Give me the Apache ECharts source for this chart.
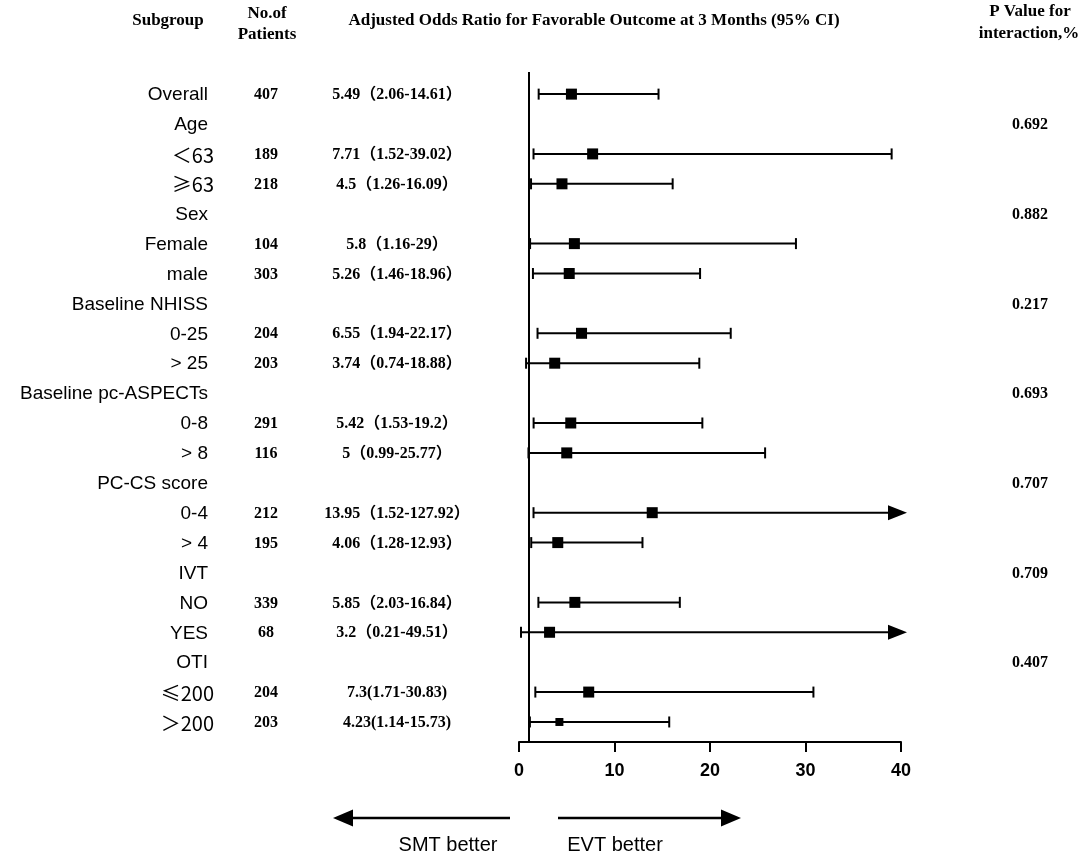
<!DOCTYPE html>
<html>
<head>
<meta charset="utf-8">
<script src="https://cdn.jsdelivr.net/npm/echarts@6/dist/echarts.min.js"></script>
<style>html,body{margin:0;padding:0;background:#fff}#c{width:1084px;height:864px}</style>
</head>
<body>
<div id="c"></div>
<script>
// ---- data ----
var subgroups = ['Overall','Age','＜63','≥63','Sex','Female','male','Baseline NHISS','0-25','> 25','Baseline pc-ASPECTs','0-8','> 8','PC-CS score','0-4','> 4','IVT','NO','YES','OTI','≤200','＞200'];
var patients = [407,null,189,218,null,104,303,null,204,203,null,291,116,null,212,195,null,339,68,null,204,203];
var oddsRatio = [5.49,null,7.71,4.5,null,5.8,5.26,null,6.55,3.74,null,5.42,5,null,13.95,4.06,null,5.85,3.2,null,7.3,4.23];
var ciLow = [2.06,null,1.52,1.26,null,1.16,1.46,null,1.94,0.74,null,1.53,0.99,null,1.52,1.28,null,2.03,0.21,null,1.71,1.14];
var ciHigh = [14.61,null,39.02,16.09,null,29,18.96,null,22.17,18.88,null,19.2,25.77,null,127.92,12.93,null,16.84,49.51,null,30.83,15.73];
var orLabels = ['5.49（2.06-14.61）','','7.71（1.52-39.02）','4.5（1.26-16.09）','','5.8（1.16-29）','5.26（1.46-18.96）','','6.55（1.94-22.17）','3.74（0.74-18.88）','','5.42（1.53-19.2）','5（0.99-25.77）','','13.95（1.52-127.92）','4.06（1.28-12.93）','','5.85（2.03-16.84）','3.2（0.21-49.51）','','7.3(1.71-30.83)','4.23(1.14-15.73)'];
var pValues = ['', '0.692','','','0.882','','','0.217','','','0.693','','','0.707','','','0.709','','','0.407','',''];
var xTicks = {min: 0, max: 40, interval: 10};

// ---- chart ----
var chart = echarts.init(document.getElementById('c'));
var serifB = '"Liberation Serif","Times New Roman","Noto Sans CJK SC",serif';
var sans = '"Liberation Sans",Arial,"Noto Sans CJK SC",sans-serif';
var cjk = '"Noto Sans CJK SC","Liberation Sans",sans-serif';

var ciData = [], pointData = [], textData = [];
for (var i = 0; i < subgroups.length; i++) {
  textData.push([0, i]);
  if (oddsRatio[i] != null) {
    ciData.push([ciLow[i], ciHigh[i], i]);
    pointData.push([oddsRatio[i], i]);
  }
}
var lastRow = subgroups.length - 1;

chart.setOption({
  animation: false,
  backgroundColor: '#fff',
  grid: {left: 519, right: 183, top: 72, bottom: 122},
  xAxis: {
    type: 'value', position: 'bottom', min: xTicks.min, max: xTicks.max, interval: xTicks.interval,
    axisLine: {show: true, onZero: false, lineStyle: {color: '#000', width: 2}},
    axisTick: {show: true, inside: false, length: 10, lineStyle: {color: '#000', width: 2}},
    axisLabel: {color: '#000', fontWeight: 'bold', fontSize: 18, fontFamily: sans, margin: 20},
    splitLine: {show: false}
  },
  yAxis: {type: 'value', inverse: true, min: -0.74, max: 21.67, show: false},
  series: [
    {
      type: 'custom', clip: false, data: ciData, z: 3,
      renderItem: function (params, api) {
        var lo = api.value(0), hi = api.value(1), row = api.value(2);
        var p0 = api.coord([lo, row]);
        var y = p0[1];
        var children = [];
        var capH = 5.5;
        children.push({type: 'line', shape: {x1: p0[0], y1: y - capH, x2: p0[0], y2: y + capH}, style: {stroke: '#000', lineWidth: 2}});
        if (hi <= xTicks.max) {
          var p1 = api.coord([hi, row]);
          children.push({type: 'line', shape: {x1: p0[0], y1: y, x2: p1[0], y2: y}, style: {stroke: '#000', lineWidth: 2}});
          children.push({type: 'line', shape: {x1: p1[0], y1: y - capH, x2: p1[0], y2: y + capH}, style: {stroke: '#000', lineWidth: 2}});
        } else {
          var tip = api.coord([xTicks.max, row])[0] + 6;
          var base = tip - 19;
          children.push({type: 'line', shape: {x1: p0[0], y1: y, x2: base + 2, y2: y}, style: {stroke: '#000', lineWidth: 2}});
          children.push({type: 'polygon', shape: {points: [[base, y - 7.5], [tip, y], [base, y + 7.5]]}, style: {fill: '#000'}});
        }
        return {type: 'group', children: children};
      }
    },
    {
      type: 'scatter', data: pointData, symbol: 'rect', z: 4,
      symbolSize: function (v) { return v[1] === lastRow ? 8 : 11; },
      itemStyle: {color: '#000', opacity: 1},
      emphasis: {disabled: true},
      markLine: {
        silent: true, symbol: ['none', 'none'], label: {show: false},
        lineStyle: {color: '#000', width: 2, type: 'solid'},
        data: [{xAxis: 1}]
      }
    },
    {
      type: 'custom', clip: false, data: textData, z: 5,
      renderItem: function (params, api) {
        var i = api.value(1);
        var y = api.coord([0, i])[1];
        var ch = [];
        var label = subgroups[i];
        var special = /[^\x00-\x7f]/.test(label);
        ch.push({type: 'text', x: special ? 214 : 208, y: y + 1, style: {text: label, fill: '#000', font: (special ? '20px ' + cjk : '19px ' + sans), align: 'right', verticalAlign: 'middle'}});
        if (patients[i] != null) {
          ch.push({type: 'text', x: 266, y: y + 1, style: {text: String(patients[i]), fill: '#000', font: 'bold 16px ' + serifB, align: 'center', verticalAlign: 'middle'}});
        }
        if (orLabels[i]) {
          ch.push({type: 'text', x: 397, y: y + 1, style: {text: orLabels[i], fill: '#000', font: 'bold 16px ' + serifB, align: 'center', verticalAlign: 'middle'}});
        }
        if (pValues[i]) {
          ch.push({type: 'text', x: 1030, y: y + 1, style: {text: pValues[i], fill: '#000', font: 'bold 16px ' + serifB, align: 'center', verticalAlign: 'middle'}});
        }
        return {type: 'group', children: ch};
      }
    }
  ],
  graphic: [
    {type: 'text', x: 168, y: 21, style: {text: 'Subgroup', fill: '#000', font: 'bold 17px ' + serifB, align: 'center', verticalAlign: 'middle'}},
    {type: 'text', x: 267, y: 14, style: {text: 'No.of', fill: '#000', font: 'bold 17px ' + serifB, align: 'center', verticalAlign: 'middle'}},
    {type: 'text', x: 267, y: 35, style: {text: 'Patients', fill: '#000', font: 'bold 17px ' + serifB, align: 'center', verticalAlign: 'middle'}},
    {type: 'text', x: 594, y: 21, style: {text: 'Adjusted Odds Ratio for Favorable Outcome at 3 Months (95% CI)', fill: '#000', font: 'bold 17px ' + serifB, align: 'center', verticalAlign: 'middle'}},
    {type: 'text', x: 1030, y: 12, style: {text: 'P Value for', fill: '#000', font: 'bold 17px ' + serifB, align: 'center', verticalAlign: 'middle'}},
    {type: 'text', x: 1029, y: 34, style: {text: 'interaction,%', fill: '#000', font: 'bold 17px ' + serifB, align: 'center', verticalAlign: 'middle'}},
    {type: 'line', shape: {x1: 350, y1: 818, x2: 510, y2: 818}, style: {stroke: '#000', lineWidth: 2.5}},
    {type: 'polygon', shape: {points: [[333, 818], [353, 809.5], [353, 826.5]]}, style: {fill: '#000'}},
    {type: 'line', shape: {x1: 558, y1: 818, x2: 724, y2: 818}, style: {stroke: '#000', lineWidth: 2.5}},
    {type: 'polygon', shape: {points: [[741, 818], [721, 809.5], [721, 826.5]]}, style: {fill: '#000'}},
    {type: 'text', x: 448, y: 845, style: {text: 'SMT better', fill: '#000', font: '20px ' + sans, align: 'center', verticalAlign: 'middle'}},
    {type: 'text', x: 615, y: 845, style: {text: 'EVT better', fill: '#000', font: '20px ' + sans, align: 'center', verticalAlign: 'middle'}}
  ]
});
</script>
</body>
</html>
